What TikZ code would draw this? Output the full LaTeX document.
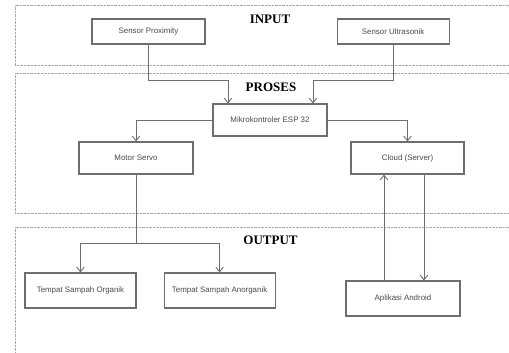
\documentclass[tikz,border=0pt]{standalone}
\usepackage{fontspec}
\setmainfont{Liberation Serif}
\setsansfont{Liberation Sans}
\usepackage{xcolor}
\usepackage{tikz}
\usetikzlibrary{positioning,arrows.meta,calc}
\definecolor{garis}{HTML}{6E6E6E}
\definecolor{teks}{HTML}{4A4A4A}
\tikzset{
  blok/.style  ={rectangle, draw=garis, line width=1.1pt, fill=white,
                 align=center, inner sep=0pt, text=teks,
                 font=\sffamily\fontsize{7.9}{9}\selectfont,
                 minimum width=113pt, minimum height=32pt},
  zona/.style  ={draw=gray!70, line width=0.6pt, dash pattern=on 0.7pt off 0.7pt},
  judul/.style ={font=\bfseries\fontsize{13}{15}\selectfont, inner sep=0pt},
  arr/.style   ={-{Straight Barb[length=1.6mm, width=2.6mm]}, line width=0.9pt, draw=garis},
}

\begin{document}
\begin{tikzpicture}[x=1pt, y=-1pt]
  \useasboundingbox (0,0) rectangle (509,353);

  % zones
  \draw[zona] (509,5) -- (15,5) -- (15,65) -- (509,65);
  \draw[zona] (509,73) -- (15,73) -- (15,213) -- (509,213);
  \draw[zona] (509,227) -- (15,227) -- (15,353);

  \node[judul] (tin)  at (270,19)    {INPUT};
  \node[judul] (tpro) at (271,87.5)  {PROSES};
  \node[judul] (tout) at (270.5,240.5) {OUTPUT};

  % input
  \node[blok, minimum height=25pt] (prox) at (148.5,31.5) {Sensor Proximity};
  \node[blok, minimum height=25pt, minimum width=112pt, right=131pt of prox] (ultra) {Sensor Ultrasonik};

  % proses
  \node[blok, minimum width=114pt] (esp)   at (270,120)   {Mikrokontroler ESP 32};
  \node[blok, minimum width=114pt] (servo) at (136,158)   {Motor Servo};
  \node[blok] (cloud) at (407.5,158) {Cloud (Server)};

  % output
  \node[blok, minimum width=111pt, minimum height=35pt] (organik) at (80.5,290.5) {Tempat Sampah Organik};
  \node[blok, minimum width=111pt, minimum height=35pt, right=27pt of organik] (anorganik) {Tempat Sampah Anorganik};
  \node[blok, minimum width=114pt, minimum height=35pt] (android) at (403,298.5) {Aplikasi Android};

  \coordinate (cabang) at ([yshift=-69pt]servo.south);

  \draw[arr] (prox.south) -- ++(0,36) -| ([xshift=-42pt]esp.north);
  \draw[arr] (ultra.south) -- ++(0,36) -| ([xshift=43pt]esp.north);
  \draw[arr] (esp.west) -| (servo.north);
  \draw[arr] (esp.east) -| (cloud.north);
  \draw[line width=0.9pt, draw=garis] (servo.south) -- (cabang);
  \draw[arr] (cabang) -| (organik.north);
  \draw[arr] (cabang) -| (anorganik.north);
  \draw[arr] ([xshift=-19pt]android.north) -- ([xshift=-19pt]android.north |- cloud.south);
  \draw[arr] ([xshift=21pt]android.north |- cloud.south) -- ([xshift=21pt]android.north);
\end{tikzpicture}
\end{document}
